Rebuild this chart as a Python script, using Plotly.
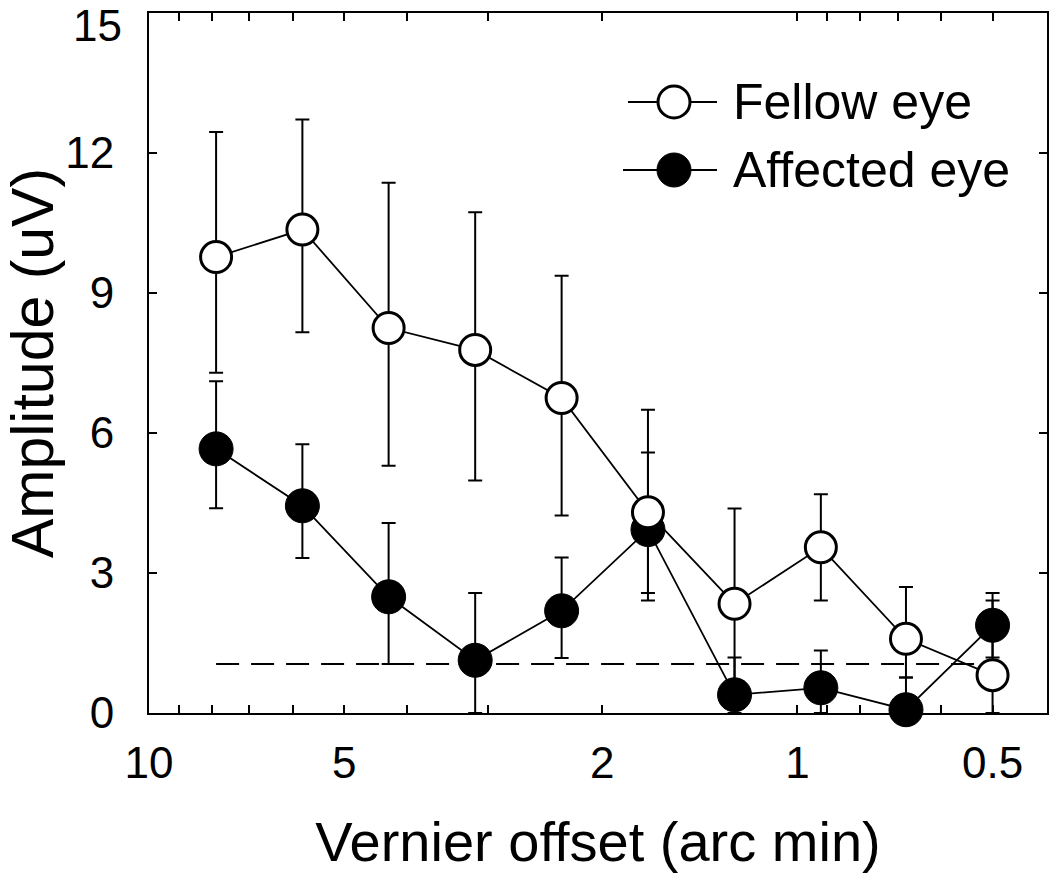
import plotly.graph_objects as go

# ---- data ----
offset_arcmin = [7.88, 5.80, 4.27, 3.14, 2.31, 1.70, 1.25, 0.92, 0.68, 0.50]

fellow_amp = [9.77, 10.36, 8.25, 7.78, 6.75, 4.30, 2.34, 3.55, 1.59, 0.81]
fellow_err_plus = [2.68, 2.36, 3.11, 2.95, 2.62, 2.20, 2.04, 1.14, 1.11, 1.76]
fellow_err_minus = [2.48, 2.20, 2.95, 2.80, 2.52, 1.89, 2.04, 1.14, 0.83, 0.81]

affected_amp = [5.66, 4.44, 2.49, 1.13, 2.19, 3.93, 0.39, 0.54, 0.07, 1.88]
affected_err_plus = [1.45, 1.32, 1.58, 1.44, 1.14, 1.65, 0.80, 0.80, 0.69, 0.53]
affected_err_minus = [1.27, 1.12, 1.44, 1.13, 1.01, 1.36, 0.39, 0.54, 0.07, 0.69]

noise_level = 1.05

series_names = ["Fellow eye", "Affected eye"]

x_tick_vals = [10, 9, 8, 7, 6, 5, 4, 3, 2, 1, 0.9, 0.8, 0.7, 0.6, 0.5]
x_tick_text = ["10", "", "", "", "", "5", "", "", "2", "1", "", "", "", "", "0.5"]
y_tick_vals = [0, 3, 6, 9, 12, 15]
y_tick_text = ["0", "3", "6", "9", "12", ""]   # top label is nudged down below
y_top_label = "15"

FONT = "Liberation Sans, Arial, Helvetica, sans-serif"

# ---- layout geometry (pixels) ----
W, H = 1050, 873
ML, MR, MT, MB = 149, 3, 13, 160
PW, PH = W - ML - MR, H - MT - MB


def px_x(px):
    return (px - ML) / PW


def px_y(py):
    return (H - MB - py) / PH


fig = go.Figure()

# noise level (dashed)
fig.add_trace(go.Scatter(
    x=[offset_arcmin[0], offset_arcmin[-1]], y=[noise_level, noise_level],
    mode="lines", line=dict(color="black", width=2, dash="23px,12px"),
    showlegend=False, hoverinfo="skip"))

fig.add_trace(go.Scatter(
    x=offset_arcmin, y=affected_amp, name=series_names[1],
    mode="lines+markers", showlegend=False, cliponaxis=False,
    line=dict(color="black", width=1.8),
    marker=dict(symbol="circle", size=34, color="black",
                line=dict(color="black", width=1)),
    error_y=dict(type="data", symmetric=False, array=affected_err_plus,
                 arrayminus=affected_err_minus, color="black",
                 thickness=2, width=7)))

fig.add_trace(go.Scatter(
    x=offset_arcmin, y=fellow_amp, name=series_names[0],
    mode="lines+markers", showlegend=False, cliponaxis=False,
    line=dict(color="black", width=1.8),
    marker=dict(symbol="circle", size=31, color="white",
                line=dict(color="black", width=3)),
    error_y=dict(type="data", symmetric=False, array=fellow_err_plus,
                 arrayminus=fellow_err_minus, color="black",
                 thickness=2, width=7)))

# ---- legend (key drawn with shapes + text) ----
legend_rows = [
    dict(name=series_names[0], y=102, fill="white", r=16, lw=3, x0=628),
    dict(name=series_names[1], y=170, fill="black", r=17, lw=1, x0=623),
]
shapes = []
annotations = []
for row in legend_rows:
    yc = px_y(row["y"])
    shapes.append(dict(type="line", xref="paper", yref="paper",
                       x0=px_x(row["x0"]), x1=px_x(717), y0=yc, y1=yc,
                       line=dict(color="black", width=2)))
    shapes.append(dict(type="circle", xref="paper", yref="paper",
                       xsizemode="pixel", ysizemode="pixel",
                       xanchor=px_x(674), yanchor=yc,
                       x0=-row["r"], x1=row["r"], y0=-row["r"], y1=row["r"],
                       fillcolor=row["fill"],
                       line=dict(color="black", width=row["lw"])))
    annotations.append(dict(xref="paper", yref="paper", x=px_x(731), y=yc,
                            xanchor="left", yanchor="middle", showarrow=False,
                            text=row["name"], font=dict(size=50, family=FONT,
                                                        color="black")))

# top y tick label, nudged down so it stays inside the page (as in the reference)
annotations.append(dict(xref="paper", yref="y", x=0, y=y_tick_vals[-1],
                        xanchor="right", yanchor="middle", xshift=-25, yshift=-12,
                        showarrow=False, text=y_top_label,
                        font=dict(size=44, family=FONT, color="black")))

fig.update_layout(
    width=W, height=H,
    margin=dict(l=ML, r=MR, t=MT, b=MB),
    paper_bgcolor="white", plot_bgcolor="white",
    font=dict(family=FONT, color="black"),
    showlegend=False,
    shapes=shapes, annotations=annotations,
)

fig.update_xaxes(
    type="log", range=[1.0, -0.385], automargin=False,
    tickmode="array", tickvals=x_tick_vals, ticktext=x_tick_text,
    ticks="inside", ticklen=8, tickwidth=2, tickcolor="black",
    showline=True, linecolor="black", linewidth=2, mirror="ticks",
    showgrid=False, zeroline=False, ticklabeloverflow="allow",
    tickfont=dict(size=44, family=FONT), ticklabelstandoff=10,
    title=dict(text="Vernier offset (arc min)", font=dict(size=56, family=FONT),
               standoff=36),
)

fig.update_yaxes(
    range=[0, 15], tickmode="array", tickvals=y_tick_vals, ticktext=y_tick_text,
    automargin=False,
    ticks="inside", ticklen=8, tickwidth=2, tickcolor="black",
    showline=True, linecolor="black", linewidth=2, mirror="ticks",
    showgrid=False, zeroline=False, ticklabeloverflow="allow",
    tickfont=dict(size=44, family=FONT), ticklabelstandoff=24,
    title=dict(text="Amplitude (uV)", font=dict(size=59, family=FONT),
               standoff=8),
)

fig.write_html(
    "out.html",
    config={"displayModeBar": False},
    post_script="document.body.style.margin='0';"
                "document.documentElement.style.overflow='hidden';",
)
